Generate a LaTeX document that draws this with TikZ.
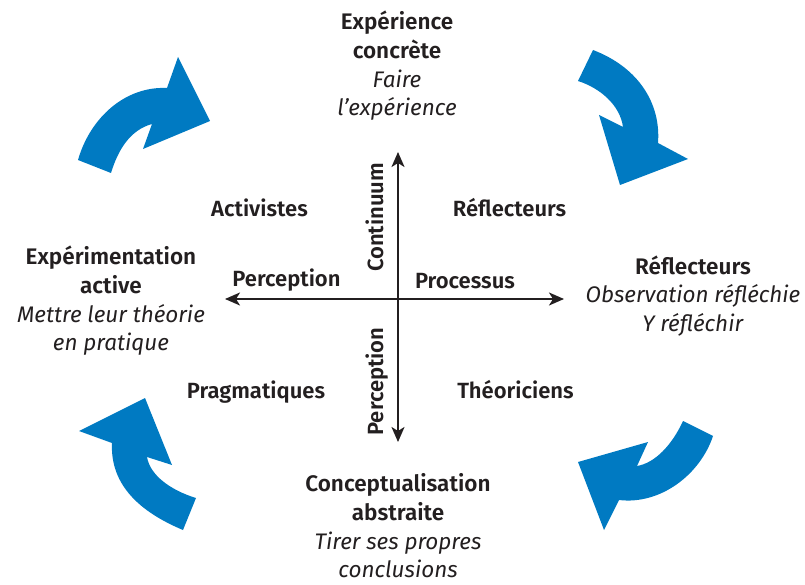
\documentclass[tikz,border=0pt]{standalone}
\usepackage{fontspec}
\setmainfont{Fira Sans}[BoldFont={Fira Sans SemiBold}]
\usetikzlibrary{arrows.meta, positioning}
\definecolor{bleu}{RGB}{0,122,194}
\definecolor{encre}{RGB}{35,31,32}
\tikzset{
	titre/.style={align=center, inner sep=0pt, text=encre, font=\fontsize{22.5}{28.7}\selectfont},
	profil/.style={anchor=base, inner sep=0pt, text=encre, font=\fontsize{22}{26}\selectfont\bfseries},
	axe/.style={line width=1.8pt, draw=encre, <->, >={Stealth[length=15pt, width=13pt, inset=4pt]}},
	fleche/.style={fill=bleu, draw=none}
}
\begin{document}
\begin{tikzpicture}[x=1pt, y=-1pt]
	\useasboundingbox (0,0) rectangle (805,585);
	\node[titre] (concrete) at (397,66) {\textbf{Expérience}\\\textbf{concrète}\\\textit{Faire}\\\textit{l'expérience}};
	\node[titre] (observation) at (693,296) {\textbf{Réflecteurs}\\\textit{Observation réfléchie}\\\textit{Y réfléchir}};
	\node[titre] (abstraite) at (398,526) {\textbf{Conceptualisation}\\\textbf{abstraite}\\\textit{Tirer ses propres}\\\textit{conclusions}};
	\node[titre] (active) at (111,301) {\textbf{Expérimentation}\\\textbf{active}\\\textit{Mettre leur théorie}\\\textit{en pratique}};
	\coordinate (O) at (398,299);
	\coordinate (haut) at (398,152);
	\coordinate (bas) at (398,442);
	\coordinate (gauche) at (225,299);
	\coordinate (droite) at (564,299);
	\draw[axe] (haut) -- (bas);
	\draw[axe] (gauche) -- (droite);
	\node[profil] (activistes) at (259.5,217) {Activistes};
	\node[profil] (reflecteurs) at (509.5,217) {Réflecteurs};
	\node[profil] (pragmatiques) at (256,398) {Pragmatiques};
	\node[profil] (theoriciens) at (515.5,398) {Théoriciens};
	\node[profil] (percgauche) at (286.5,286) {Perception};
	\node[profil] (processus) at (465,288) {Processus};
	\node[profil, rotate=90] (continuum) at (383,217.5) {Continuum};
	\node[profil, rotate=90] (percbas) at (383,381.5) {Perception};
	\fill[fleche] (78,160) -- (111,173) .. controls (118,150) and (130,130) .. (152,124) -- (143,149) -- (210,121) -- (178,57) -- (167,88) .. controls (125,86) and (90,118) .. (78,160) -- cycle;
	\fill[fleche] (593,50) -- (578,81) .. controls (600,88) and (620,105) .. (623,127) -- (599,115) -- (620,185) -- (688,159) -- (658,143) .. controls (661,105) and (640,68) .. (593,50) -- cycle;
	\fill[fleche] (713,436) -- (683,421) .. controls (672,445) and (655,463) .. (637,466) -- (648,442) -- (578,462) -- (604,530) -- (619,500) .. controls (660,505) and (700,475) .. (713,436) -- cycle;
	\fill[fleche] (183,530) -- (196,498) .. controls (170,490) and (150,475) .. (147,457) -- (172,465) -- (145,398) -- (79,431) -- (112,443) .. controls (110,485) and (140,512) .. (183,530) -- cycle;
\end{tikzpicture}
\end{document}
